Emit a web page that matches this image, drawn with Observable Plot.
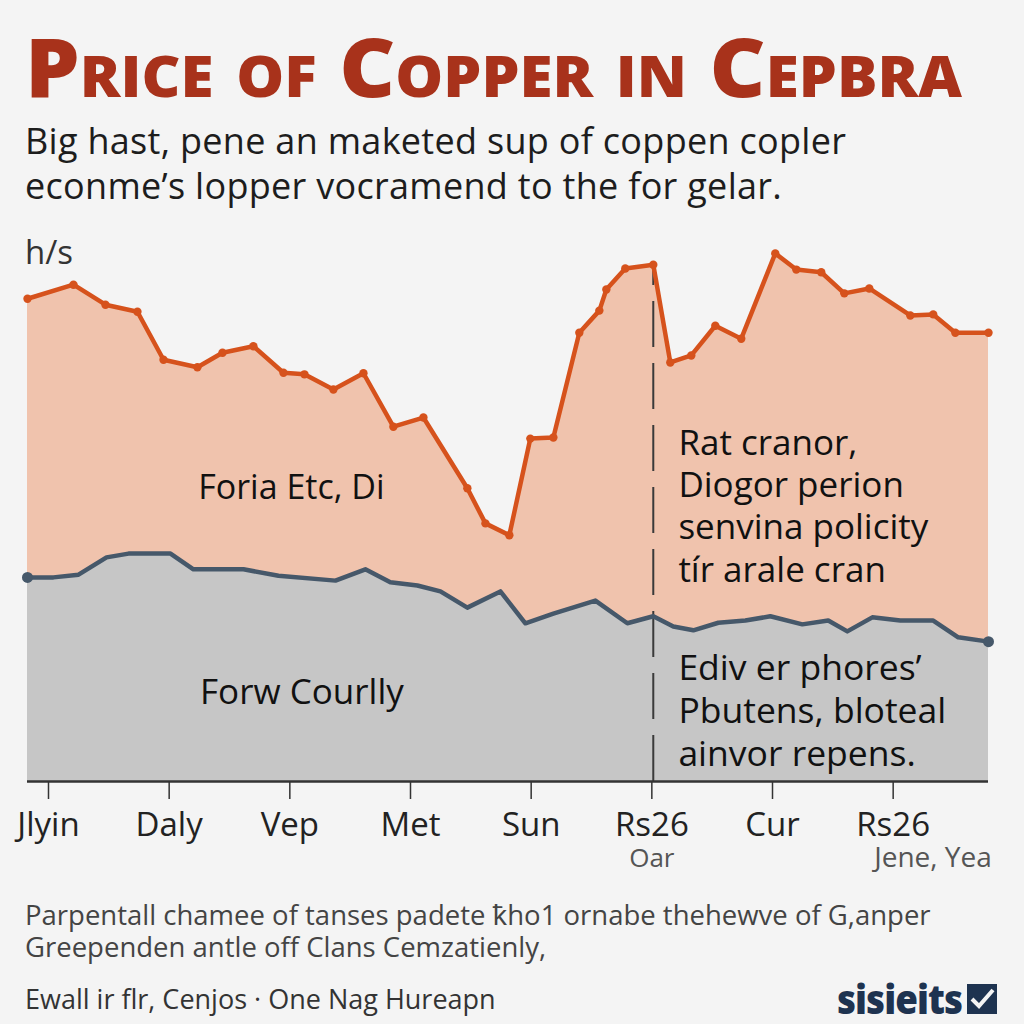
<!DOCTYPE html>
<html>
<head>
<meta charset="utf-8">
<script src="https://cdn.jsdelivr.net/npm/d3@7"></script>
<script src="https://cdn.jsdelivr.net/npm/@observablehq/plot@0.6"></script>
<style>
  html, body { margin: 0; padding: 0; background: #f4f4f4; }
  body { width: 1024px; height: 1024px; position: relative; overflow: hidden; font-family: "Open Sans", "Noto Sans", sans-serif; }
  #title { position: absolute; left: 25px; top: 24px; font-family: "Open Sans", sans-serif; font-weight: 800; font-variant: small-caps; font-size: 82px; line-height: 1; color: #a8321b; white-space: nowrap; transform-origin: 0 0; }
  #subtitle { position: absolute; left: 25px; top: 118px; font-size: 36px; line-height: 45px; letter-spacing: 0.3px; color: #1d1d1d; white-space: nowrap; }
  #ylabel { position: absolute; left: 25px; top: 229px; font-size: 33px; color: #333; }
  #chart { position: absolute; left: 0; top: 241px; }
  #caption { position: absolute; left: 25px; top: 899px; font-size: 27.5px; line-height: 32px; color: #444; white-space: nowrap; }
  #footer { position: absolute; left: 25px; top: 980px; font-size: 27px; color: #333; white-space: nowrap; }
  #logo { position: absolute; right: 26px; top: 974px; height: 50px; display: flex; align-items: center; gap: 4px; }
  #logo span { font-weight: 800; font-size: 40px; line-height: 50px; letter-spacing: -1px; color: #1e3350; display: inline-block; transform: scaleX(0.92); transform-origin: 100% 50%; }
</style>
</head>
<body>
<div id="title">Price of Copper in Cepbra</div>
<div id="subtitle">Big hast, pene an maketed sup of coppen copler<br>econme’s lopper vocramend to the for gelar.</div>
<div id="ylabel">h/s</div>
<div id="chart"></div>
<div id="caption">Parpentall chamee of tanses padete ꝁho1 ornabe thehewve of G,anper<br>Greependen antle off Clans Cemzatienly,</div>
<div id="footer">Ewall ir flr, Cenjos · One Nag Hureapn</div>
<div id="logo"><span>sisieits</span><svg width="32" height="32" viewBox="0 0 32 32"><rect x="1" y="1" width="30" height="30" fill="#1e3350"/><path d="M6 16 L13 23 L27 7" stroke="#f4f4f4" stroke-width="4" fill="none"/></svg></div>
<script>
// Tick labels (positions 0..7)
const tickLabels = ["Jlyin", "Daly", "Vep", "Met", "Sun", "Rs26", "Cur", "Rs26"];

// Copper price series (orange) – x in tick units, y in h/s
const orangeX = [-0.174, 0.207, 0.472, 0.737, 0.953, 1.234, 1.442, 1.698, 1.947, 2.121, 2.361, 2.610, 2.858, 3.107, 3.471, 3.621, 3.819, 3.993, 4.184, 4.399, 4.565, 4.623, 4.780, 5.012, 5.153, 5.327, 5.526, 5.741, 6.023, 6.197, 6.404, 6.595, 6.802, 7.142, 7.332, 7.515, 7.79];
const orangeY = [89.4, 92.0, 88.3, 87.0, 78.1, 76.7, 79.4, 80.6, 75.7, 75.4, 72.6, 75.6, 65.7, 67.4, 54.3, 47.8, 45.6, 63.5, 63.7, 83.1, 87.2, 91.1, 95.0, 95.7, 77.6, 78.9, 84.4, 82.0, 97.8, 94.8, 94.3, 90.4, 91.3, 86.3, 86.5, 83.1, 83.1];

// Second series (gray)
const grayX = [-0.174, 0.041, 0.249, 0.481, 0.663, 1.011, 1.201, 1.616, 1.906, 2.378, 2.626, 2.833, 3.057, 3.248, 3.471, 3.745, 3.952, 4.184, 4.532, 4.797, 5.012, 5.178, 5.344, 5.551, 5.775, 5.982, 6.247, 6.462, 6.620, 6.827, 7.059, 7.332, 7.539, 7.79];
const grayY = [37.8, 37.8, 38.3, 41.5, 42.2, 42.2, 39.3, 39.3, 38.1, 37.2, 39.3, 36.9, 36.3, 35.2, 32.2, 35.2, 29.3, 31.1, 33.5, 29.3, 30.6, 28.7, 28.0, 29.4, 29.8, 30.6, 29.1, 29.8, 27.8, 30.4, 29.8, 29.8, 26.7, 25.9];

// Annotations
const markerX = 5.0;
const subLabels = [{x: 5.0, text: "Oar", size: 26}, {x: 7.33, text: "Jene, Yea", size: 28}];
const notes = [
  {x: 2.013, y: 54.8, text: "Foria Etc, Di", anchor: "middle", size: 34},
  {x: 2.10, y: 16.9, text: "Forw Courlly", anchor: "middle", size: 35},
  {x: 5.22, y: 51.3, text: "Rat cranor,\nDiogor perion\nsenvina policity\ntír arale cran", anchor: "start", size: 35},
  {x: 5.22, y: 13.3, text: "Ediv er phores’\nPbutens, bloteal\nainvor repens.", anchor: "start", size: 35.5}
];

const orange = orangeX.map((x, i) => ({x, y: orangeY[i]}));
const gray = grayX.map((x, i) => ({x, y: grayY[i]}));
const markerTop = orange.find(d => Math.abs(d.x - markerX) < 0.05);

const chart = Plot.plot({
  width: 1024,
  height: 640,
  marginLeft: 27,
  marginRight: 36,
  marginTop: 0,
  marginBottom: 100,
  x: {domain: [orangeX[0], orangeX[orangeX.length - 1]], label: null},
  y: {domain: [0, 100], axis: null},
  style: {background: "transparent", fontFamily: "Open Sans, sans-serif", fontSize: "34px", color: "#222", overflow: "visible"},
  marks: [
    Plot.areaY(orange, {x: "x", y: "y", fill: "#f0c3ad"}),
    Plot.areaY(gray, {x: "x", y: "y", fill: "#c6c6c6"}),
    Plot.ruleX([markerTop], {x: "x", y1: 0, y2: "y", stroke: "#3a3a3a", strokeWidth: 2, strokeDasharray: "46,16"}),
    Plot.lineY(orange, {x: "x", y: "y", stroke: "#d6521c", strokeWidth: 4.5, strokeLinejoin: "round"}),
    Plot.dot(orange, {x: "x", y: "y", r: 4.2, fill: "#d6521c"}),
    Plot.lineY(gray, {x: "x", y: "y", stroke: "#46586a", strokeWidth: 4.5, strokeLinejoin: "round"}),
    Plot.dot([gray[0], gray[gray.length - 1]], {x: "x", y: "y", r: 5.5, fill: "#46586a"}),
    Plot.ruleY([0], {stroke: "#333", strokeWidth: 2.5}),
    Plot.axisX({ticks: d3.range(tickLabels.length), tickFormat: i => tickLabels[i], tickSize: 18, tickPadding: 13, fontSize: 33, label: null, stroke: "#333", strokeWidth: 1.5}),
    ...subLabels.map(s => Plot.text([s], {x: "x", y: 0, text: "text", dy: 77, fontSize: s.size, fill: "#555"})),
    ...notes.map(n => Plot.text([n], {x: "x", y: "y", text: "text", textAnchor: n.anchor, fontSize: n.size, fill: "#111", lineHeight: 1.21}))
  ]
});
document.getElementById("chart").appendChild(chart);

// Fit title width to reference span
const t = document.getElementById("title");
const w = t.getBoundingClientRect().width;
t.style.transform = `scaleX(${937 / w})`;
</script>
</body>
</html>
